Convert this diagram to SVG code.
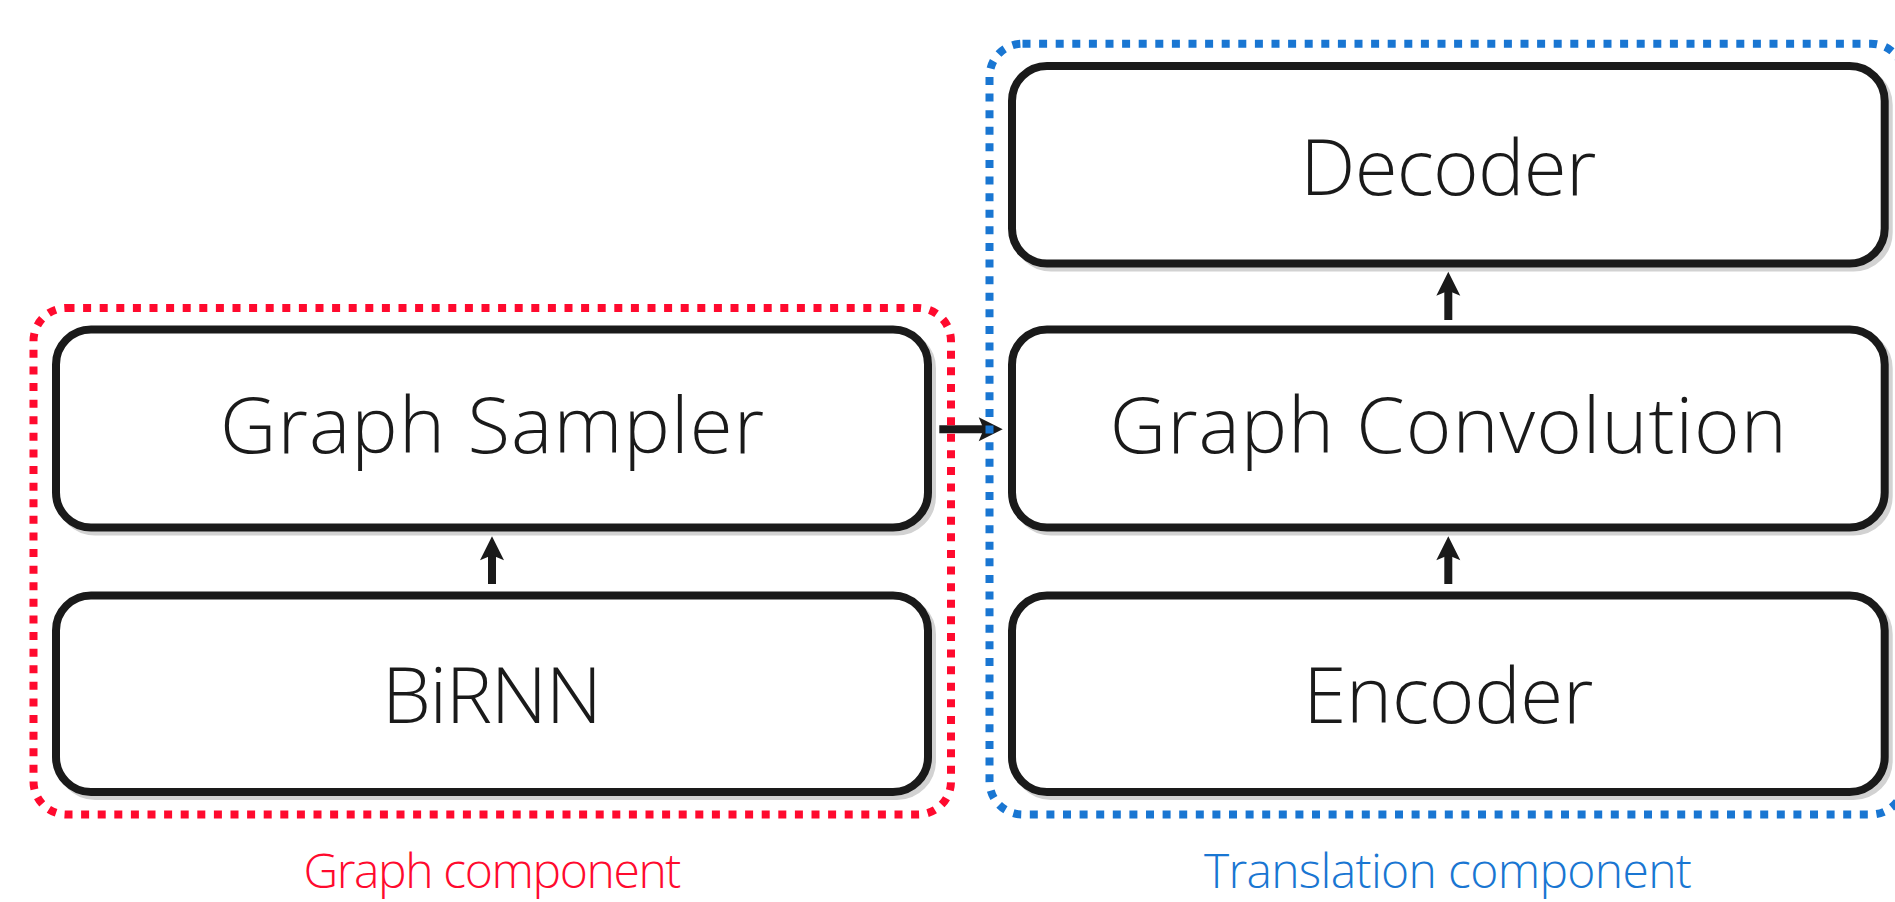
<svg xmlns="http://www.w3.org/2000/svg" width="1895" height="902" viewBox="0 0 1895 902">
  <defs>
    <marker id="arrowhead" markerUnits="userSpaceOnUse" markerWidth="26" markerHeight="26" viewBox="0 0 26 26" refX="10" refY="13" orient="auto">
      <path d="M1,1 L25,13 L1,25 L6,13 Z" fill="#1a1a1a"/>
    </marker>
  </defs>
  <style>
    .box { fill: #ffffff; stroke: #1a1a1a; stroke-width: 8; }
    .shadow { fill: none; stroke: #d2d2d2; stroke-width: 8; }
    .label { font-family: "Open Sans", "Liberation Sans", sans-serif; font-weight: 300; font-size: 78px; fill: #1a1a1a; text-anchor: middle; }
    .caption { font-family: "Open Sans", "Liberation Sans", sans-serif; font-weight: 300; font-size: 48px; text-anchor: middle; }
    .edge { stroke: #1a1a1a; stroke-width: 8; fill: none; marker-end: url(#arrowhead); }
    .group { fill: none; stroke-width: 8; stroke-dasharray: 8 8.6; }
  </style>

  <rect width="1895" height="902" fill="#ffffff"/>

  <!-- processing blocks -->
  <g id="graph-sampler">
    <rect class="shadow" x="60" y="333.5" width="872" height="198" rx="35"/>
    <rect class="box" x="56" y="329.5" width="872" height="198" rx="35"/>
    <text class="label" x="492" y="453" textLength="544" lengthAdjust="spacing">Graph Sampler</text>
  </g>
  <g id="birnn">
    <rect class="shadow" x="60" y="599.5" width="872" height="196.5" rx="35"/>
    <rect class="box" x="56" y="595.5" width="872" height="196.5" rx="35"/>
    <text class="label" x="492" y="723" textLength="220" lengthAdjust="spacing">BiRNN</text>
  </g>
  <g id="decoder">
    <rect class="shadow" x="1016" y="70" width="872.7" height="197.5" rx="35"/>
    <rect class="box" x="1012" y="66" width="872.7" height="197.5" rx="35"/>
    <text class="label" x="1448.3" y="195" textLength="296" lengthAdjust="spacing">Decoder</text>
  </g>
  <g id="graph-convolution">
    <rect class="shadow" x="1016" y="333.5" width="872.7" height="198" rx="35"/>
    <rect class="box" x="1012" y="329.5" width="872.7" height="198" rx="35"/>
    <text class="label" x="1448.3" y="453" textLength="677" lengthAdjust="spacing">Graph Convolution</text>
  </g>
  <g id="encoder">
    <rect class="shadow" x="1016" y="599.5" width="872.7" height="196.5" rx="35"/>
    <rect class="box" x="1012" y="595.5" width="872.7" height="196.5" rx="35"/>
    <text class="label" x="1448.3" y="723" textLength="290" lengthAdjust="spacing">Encoder</text>
  </g>

  <!-- data flow -->
  <g id="connectors">
    <line class="edge" x1="492" y1="584" x2="492" y2="551.3"/>
    <line class="edge" x1="1448.3" y1="584" x2="1448.3" y2="551.3"/>
    <line class="edge" x1="1448.3" y1="320" x2="1448.3" y2="286.7"/>
    <line class="edge" x1="939.3" y1="429.3" x2="987.7" y2="429.3"/>
  </g>

  <!-- component outlines -->
  <g id="graph-component">
    <rect class="group" x="33.5" y="308" width="917.5" height="506.5" rx="33" stroke="#ff0a2e"/>
    <text class="caption" x="492.4" y="888" fill="#ff0a2e" textLength="378" lengthAdjust="spacing">Graph component</text>
  </g>
  <g id="translation-component">
    <rect class="group" x="989.5" y="43.7" width="914.5" height="770.8" rx="33" stroke="#1976d2"/>
    <text class="caption" x="1447.9" y="888" fill="#1976d2" textLength="488" lengthAdjust="spacing">Translation component</text>
  </g>
</svg>
